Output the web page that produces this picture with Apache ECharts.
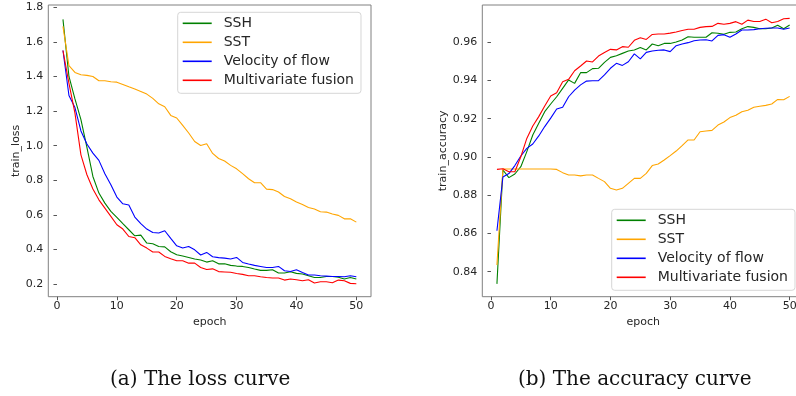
<!DOCTYPE html>
<html lang="en">
<head>
	<meta charset="UTF-8">
	<title>loss / accuracy curve</title>
	<script src="https://cdn.jsdelivr.net/npm/echarts@6/dist/echarts.min.js"></script>
	<style>
		html, body { margin: 0; padding: 0; background: #fff; }
		#chart { width: 796px; height: 396px; }
	</style>
</head>
<body>
	<div id="chart"></div>

	<script>
	/* 데이터 */
	var epochs = [1, 2, 3, 4, 5, 6, 7, 8, 9, 10, 11, 12, 13, 14, 15, 16, 17, 18, 19, 20,
		21, 22, 23, 24, 25, 26, 27, 28, 29, 30, 31, 32, 33, 34, 35, 36, 37, 38, 39, 40,
		41, 42, 43, 44, 45, 46, 47, 48, 49, 50];
	var seriesNames = ['SSH', 'SST', 'Velocity of flow', 'Multivariate fusion'];

	var lossSSH = [1.73, 1.40, 1.27, 1.15, 0.99, 0.822, 0.726, 0.668, 0.62, 0.585,
		0.549, 0.514, 0.479, 0.483, 0.437, 0.433, 0.417, 0.415, 0.387, 0.369,
		0.362, 0.354, 0.345, 0.339, 0.327, 0.335, 0.317, 0.317, 0.308, 0.304,
		0.302, 0.296, 0.287, 0.279, 0.279, 0.283, 0.264, 0.264, 0.271, 0.262,
		0.258, 0.248, 0.238, 0.238, 0.244, 0.244, 0.24, 0.229, 0.238, 0.229];
	var lossSST = [1.689, 1.462, 1.423, 1.41, 1.406, 1.40, 1.375, 1.375, 1.369, 1.367,
		1.354, 1.34, 1.327, 1.313, 1.298, 1.273, 1.242, 1.225, 1.175, 1.16,
		1.117, 1.073, 1.024, 1.001, 1.011, 0.955, 0.926, 0.911, 0.886, 0.866,
		0.838, 0.809, 0.786, 0.786, 0.749, 0.746, 0.732, 0.706, 0.693, 0.674,
		0.66, 0.643, 0.634, 0.618, 0.616, 0.605, 0.597, 0.577, 0.577, 0.558];
	var lossFlow = [1.55, 1.29, 1.22, 1.085, 1.01, 0.957, 0.915, 0.838, 0.774, 0.703,
		0.664, 0.657, 0.587, 0.549, 0.518, 0.498, 0.495, 0.508, 0.464, 0.421,
		0.408, 0.417, 0.398, 0.368, 0.383, 0.358, 0.353, 0.35, 0.345, 0.354,
		0.325, 0.316, 0.308, 0.302, 0.296, 0.296, 0.302, 0.277, 0.273, 0.283,
		0.267, 0.252, 0.252, 0.248, 0.246, 0.244, 0.244, 0.242, 0.248, 0.242];
	var lossFusion = [1.55, 1.36, 1.188, 0.947, 0.832, 0.749, 0.687, 0.639, 0.591, 0.543,
		0.518, 0.475, 0.468, 0.427, 0.408, 0.385, 0.385, 0.36, 0.346, 0.335,
		0.335, 0.321, 0.321, 0.296, 0.284, 0.288, 0.272, 0.27, 0.268, 0.261,
		0.256, 0.248, 0.248, 0.242, 0.238, 0.235, 0.235, 0.223, 0.229, 0.225,
		0.219, 0.225, 0.206, 0.213, 0.213, 0.208, 0.223, 0.219, 0.204, 0.202];

	var accSSH = [0.8336, 0.8932, 0.8892, 0.8911, 0.8949, 0.9028, 0.9115, 0.9176, 0.9237, 0.9277,
		0.9315, 0.9359, 0.9403, 0.9385, 0.9441, 0.9441, 0.9462, 0.9464, 0.9495, 0.9521,
		0.953, 0.9542, 0.9554, 0.956, 0.9573, 0.956, 0.9591, 0.9582, 0.9594, 0.9594,
		0.9601, 0.9612, 0.9629, 0.9626, 0.9626, 0.9626, 0.965, 0.9647, 0.9642, 0.9652,
		0.9654, 0.9671, 0.9682, 0.9678, 0.9671, 0.9671, 0.9675, 0.9689, 0.9671, 0.969];
	var accSST = [0.8435, 0.8937, 0.8937, 0.8937, 0.8937, 0.8937, 0.8937, 0.8937, 0.8937, 0.8937,
		0.8935, 0.8918, 0.8906, 0.8906, 0.8901, 0.8906, 0.8906, 0.8888, 0.8871, 0.8836,
		0.8827, 0.8836, 0.8862, 0.8888, 0.8888, 0.8914, 0.8955, 0.8963, 0.8984, 0.9007,
		0.9031, 0.9059, 0.9089, 0.9089, 0.9132, 0.9136, 0.9139, 0.9167, 0.9183, 0.9206,
		0.9218, 0.9237, 0.9244, 0.926, 0.9265, 0.927, 0.9277, 0.9301, 0.9299, 0.9317];
	var accFlow = [0.8614, 0.8895, 0.8913, 0.8955, 0.9005, 0.9045, 0.9068, 0.911, 0.9159, 0.9203,
		0.9251, 0.926, 0.9315, 0.935, 0.9377, 0.9397, 0.9399, 0.9399, 0.9429, 0.9464,
		0.949, 0.9479, 0.9498, 0.9539, 0.9513, 0.9547, 0.9554, 0.9558, 0.956, 0.9551,
		0.9582, 0.9591, 0.9598, 0.9608, 0.9612, 0.9613, 0.9607, 0.9636, 0.964, 0.9626,
		0.9643, 0.9664, 0.9664, 0.9666, 0.9671, 0.9673, 0.9675, 0.9675, 0.9668, 0.9675];
	var accFusion = [0.8935, 0.8938, 0.8923, 0.8923, 0.9001, 0.9097, 0.9162, 0.9211, 0.9267, 0.9319,
		0.9336, 0.9394, 0.9406, 0.9451, 0.9476, 0.9502, 0.9497, 0.9528, 0.9546, 0.9563,
		0.956, 0.9577, 0.9574, 0.961, 0.9624, 0.9615, 0.9641, 0.9643, 0.9643, 0.9648,
		0.9654, 0.9662, 0.9668, 0.9668, 0.9678, 0.9682, 0.9683, 0.9699, 0.9694, 0.9699,
		0.9708, 0.9694, 0.9716, 0.9709, 0.9709, 0.9721, 0.9702, 0.9709, 0.9723, 0.9725];

	/* 눈금 */
	var epochTicks = [0, 10, 20, 30, 40, 50];
	var lossTicks = [0.2, 0.4, 0.6, 0.8, 1.0, 1.2, 1.4, 1.6, 1.8];
	var accTicks = [0.84, 0.86, 0.88, 0.90, 0.92, 0.94, 0.96];

	var lineColors = ['#008000', '#ffa500', '#0000ff', '#ff0000'];
	var tickColor = '#262626';
	var fontName = 'DejaVu Sans';

	function pairs(values) {
		return values.map(function (v, i) { return [epochs[i], v]; });
	}

	function makeXAxis(gridIndex) {
		return {
			gridIndex: gridIndex,
			type: 'value',
			min: -1.45,
			max: 52.45,
			name: 'epoch',
			nameLocation: 'middle',
			nameGap: 11,
			nameTextStyle: { color: tickColor, fontFamily: fontName, fontSize: 11 },
			axisLine: { show: false },
			splitLine: { show: false },
			axisTick: { show: true, length: 3.5, customValues: epochTicks, lineStyle: { color: '#555' } },
			axisLabel: {
				customValues: epochTicks,
				margin: 4,
				color: tickColor,
				fontFamily: fontName,
				fontSize: 11
			}
		};
	}

	function makeYAxis(gridIndex, name, min, max, ticks, gap, digits) {
		return {
			gridIndex: gridIndex,
			type: 'value',
			min: min,
			max: max,
			name: name,
			nameLocation: 'middle',
			nameGap: gap,
			nameTextStyle: { color: tickColor, fontFamily: fontName, fontSize: 11 },
			axisLine: { show: false },
			splitLine: { show: false },
			axisTick: { show: true, length: 3.5, customValues: ticks, lineStyle: { color: '#555' } },
			axisLabel: {
				customValues: ticks,
				margin: 5,
				color: tickColor,
				fontFamily: fontName,
				fontSize: 11,
				formatter: function (v) { return v.toFixed(digits); }
			}
		};
	}

	function makeLegend(left, top, padding) {
		return {
			left: left,
			top: top,
			orient: 'vertical',
			icon: 'rect',
			itemWidth: 29,
			itemHeight: 1.6,
			itemGap: 3,
			padding: padding,
			backgroundColor: 'rgba(255,255,255,0.8)',
			borderColor: '#d6d6d6',
			borderWidth: 1,
			borderRadius: 3,
			textStyle: {
				color: tickColor,
				fontFamily: fontName,
				fontSize: 14,
				lineHeight: 16,
				padding: [0, 0, 0, 7]
			},
			data: seriesNames
		};
	}

	function makeSeries(name, values, axisIndex, color) {
		return {
			name: name,
			type: 'line',
			xAxisIndex: axisIndex,
			yAxisIndex: axisIndex,
			showSymbol: false,
			symbol: 'none',
			lineStyle: { color: color, width: 1.1 },
			itemStyle: { color: color },
			emphasis: { disabled: true },
			data: pairs(values)
		};
	}

	var lossData = [lossSSH, lossSST, lossFlow, lossFusion];
	var accData = [accSSH, accSST, accFlow, accFusion];
	var seriesList = [];
	seriesNames.forEach(function (name, i) {
		seriesList.push(makeSeries(name, lossData[i], 0, lineColors[i]));
	});
	seriesNames.forEach(function (name, i) {
		seriesList.push(makeSeries(name, accData[i], 1, lineColors[i]));
	});

	var chart = echarts.init(document.getElementById('chart'), null, { renderer: 'canvas' });
	var option = {
		animation: false,
		backgroundColor: '#ffffff',
		grid: [
			{ left: 48.3, top: 5, width: 322.7, height: 291.7, outerBoundsMode: 'none', show: true, borderColor: '#808080', borderWidth: 1, backgroundColor: 'transparent' },
			{ left: 482.3, top: 5, width: 322, height: 291.7, outerBoundsMode: 'none', show: true, borderColor: '#808080', borderWidth: 1, backgroundColor: 'transparent' }
		],
		xAxis: [makeXAxis(0), makeXAxis(1)],
		yAxis: [
			makeYAxis(0, 'train_loss', 0.127, 1.813, lossTicks, 26, 1),
			makeYAxis(1, 'train_accuracy', 0.8269, 0.9795, accTicks, 33, 2)
		],
		legend: [
			makeLegend(177.7, 12.3, [3, 7, 5, 5]),
			makeLegend(611.7, 209.3, [3, 7, 5, 5])
		],
		graphic: [
			{
				type: 'text',
				left: 200 - 90,
				top: 370,
				style: { text: '(a) The loss curve', font: '20px "DejaVu Serif"', fill: '#111' }
			},
			{
				type: 'text',
				left: 633 - 115,
				top: 370,
				style: { text: '(b) The accuracy curve', font: '20px "DejaVu Serif"', fill: '#111' }
			}
		],
		series: seriesList
	};
	chart.setOption(option);
	</script>
</body>
</html>
